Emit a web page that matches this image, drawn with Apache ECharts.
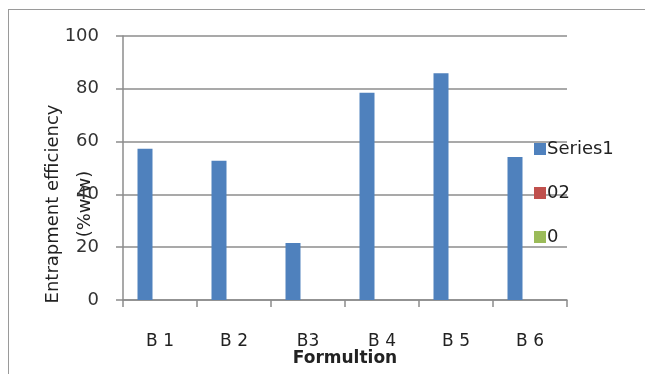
<!DOCTYPE html>
<html><head><meta charset="utf-8">
<script src="https://cdn.jsdelivr.net/npm/echarts@6/dist/echarts.min.js"></script>
<style>
html,body{margin:0;padding:0;background:#fff;}
#wrap{position:relative;width:645px;height:374px;overflow:hidden;}
#frame{position:absolute;left:8px;top:9px;width:700px;height:400px;border-left:1.5px solid #9a9a9a;border-top:1.5px solid #9a9a9a;}
#chart{position:absolute;left:0;top:0;width:645px;height:374px;}
</style></head>
<body><div id="wrap"><div id="frame"></div><div id="chart"></div></div>
<script>
const categories = ['B 1', 'B 2', 'B3', 'B 4', 'B 5', 'B 6'];
const series1 = [57.3, 52.7, 21.6, 78.5, 85.9, 54.2];
const series02 = [null, null, null, null, null, null];
const series0 = [null, null, null, null, null, null];
const seriesNames = ['Series1', '02', '0'];
const yTicks = [0, 20, 40, 60, 80, 100];

const chart = echarts.init(document.getElementById('chart'));
const font = 'DejaVu Sans, Verdana, sans-serif';
chart.setOption({
  animation: false,
  grid: {left: 123, top: 36, right: 78, bottom: 74, containLabel: false, outerBoundsMode: 'none'},
  legend: {
    orient: 'vertical', left: 529, top: 135, itemWidth: 12, itemHeight: 12, itemGap: 26,
    icon: 'rect',
    textStyle: {fontFamily: font, fontSize: 18, lineHeight: 18, color: '#222', padding: [0,0,0,-4]},
    data: seriesNames
  },
  xAxis: {
    type: 'category', data: categories,
    name: 'Formultion', nameLocation: 'middle', nameGap: 50, nameMoveOverlap: false,
    nameTextStyle: {fontFamily: font, fontSize: 17, fontWeight: 'bold', color: '#222'},
    axisLine: {lineStyle: {color: '#8c8c8c', width: 1.5}},
    axisTick: {show: true, length: 7, alignWithLabel: false, lineStyle: {color: '#8c8c8c', width: 1.5}},
    axisLabel: {fontFamily: font, fontSize: 17, color: '#222', margin: 33}
  },
  yAxis: {
    type: 'value', min: yTicks[0], max: yTicks[yTicks.length-1], interval: 20,
    name: 'Entrapment efficiency\n(%w/w)', nameLocation: 'middle', nameGap: 22, nameRotate: 90, nameMoveOverlap: false,
    nameTextStyle: {fontFamily: font, fontSize: 18, color: '#222', lineHeight: 32, padding: [0, 72, 0, 0]},
    axisLine: {show: true, lineStyle: {color: '#8c8c8c', width: 1.5}},
    axisTick: {show: true, length: 7, lineStyle: {color: '#8c8c8c', width: 1.5}},
    splitLine: {show: true, lineStyle: {color: '#8c8c8c', width: 1.5}},
    axisLabel: {fontFamily: font, fontSize: 18, color: '#333', margin: 24}
  },
  series: [
    {name: seriesNames[0], type: 'bar', data: series1, barWidth: 15, barGap: '0%', itemStyle: {color: '#4F81BD'}},
    {name: seriesNames[1], type: 'bar', data: series02, barWidth: 15, barGap: '0%', itemStyle: {color: '#C0504D'}},
    {name: seriesNames[2], type: 'bar', data: series0, barWidth: 15, barGap: '0%', itemStyle: {color: '#9BBB59'}}
  ]
});
</script></body></html>
